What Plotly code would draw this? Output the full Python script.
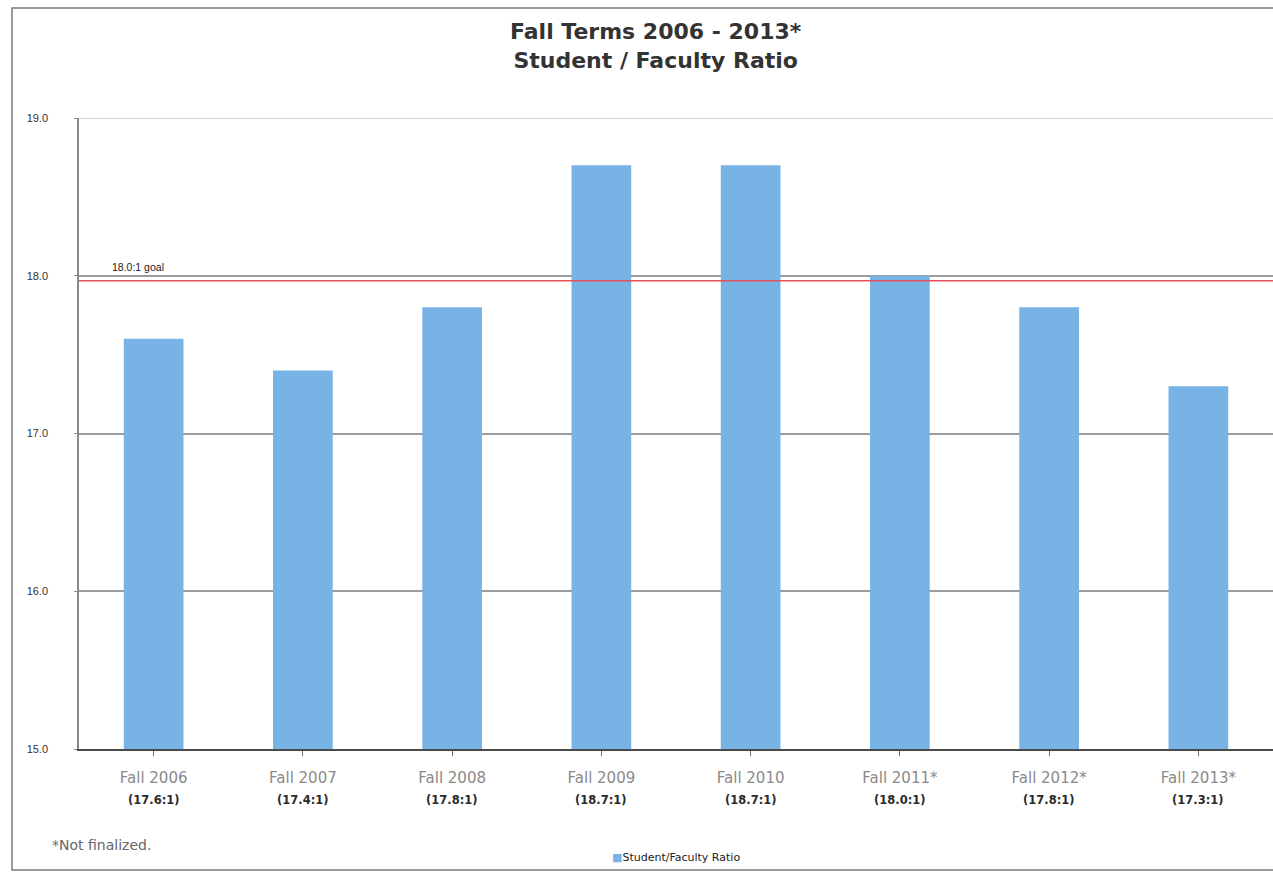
import plotly.graph_objects as go

# Fall-term student/faculty ratios
terms = ["Fall 2006", "Fall 2007", "Fall 2008", "Fall 2009", "Fall 2010",
         "Fall 2011*", "Fall 2012*", "Fall 2013*"]
ratios = [17.6, 17.4, 17.8, 18.7, 18.7, 18.0, 17.8, 17.3]
goal = 18.0
y_ticks = [15.0, 16.0, 17.0, 18.0, 19.0]

W, H = 1273, 874
ML, MT, MB, MR = 79, 118, 125, 0
PW, PH = W - ML - MR, H - MT - MB


def px_x(p):
    return (p - ML) / PW


def px_y(p):
    return (H - MB - p) / PH


FONT = "Liberation Sans, Arial, sans-serif"
WIDE = "DejaVu Sans, Verdana, sans-serif"
BAR = "#78b3e6"

fig = go.Figure()
fig.add_trace(go.Bar(
    x=list(range(len(terms))), y=ratios,
    marker=dict(color=BAR, line=dict(width=0)),
    width=0.4, name="Student/Faculty Ratio", showlegend=False,
))

annotations = [
    dict(text="<b>Fall Terms 2006 - 2013*</b><br><b>Student / Faculty Ratio</b>",
         x=px_x(656), y=px_y(46), xref="paper", yref="paper",
         xanchor="center", yanchor="middle",
         showarrow=False, font=dict(size=22, color="#333333", family=WIDE),
         align="center"),
    dict(text="18.0:1 goal", x=px_x(110), y=goal, xref="paper", yref="y",
         xanchor="left", yanchor="bottom", yshift=1, showarrow=False,
         font=dict(size=10.5, color="#222222", family=FONT)),
    dict(text="*Not finalized.", x=px_x(50), y=px_y(845), xref="paper", yref="paper",
         xanchor="left", yanchor="middle", showarrow=False,
         font=dict(size=14, color="#666666", family=WIDE)),
    dict(text="<span style='color:%s'>■</span>Student/Faculty Ratio" % BAR,
         x=px_x(676), y=px_y(857), xref="paper", yref="paper",
         xanchor="center", yanchor="middle",
         showarrow=False, font=dict(size=11, color="#222222", family=WIDE)),
]
for i, v in enumerate(ratios):
    annotations.append(dict(
        text="<b>(%.1f:1)</b>" % v, x=i, y=px_y(800), xref="x", yref="paper",
        xanchor="center", yanchor="middle",
        showarrow=False, font=dict(size=11.5, color="#2a2a2a", family=WIDE)))

shapes = [
    # outer frame of the chart
    dict(type="rect", xref="paper", yref="paper",
         x0=px_x(12), x1=1.05, y0=px_y(870), y1=px_y(8),
         line=dict(color="#7a7a7a", width=1.5), layer="below"),
    # lighter top gridline
    dict(type="line", xref="paper", yref="y", x0=0, x1=1, y0=19.0, y1=19.0,
         line=dict(color="#cfcfcf", width=2), layer="above"),
    # goal line
    dict(type="line", xref="paper", yref="y", ysizemode="pixel", yanchor=goal,
         x0=0, x1=1, y0=-5, y1=-5,
         line=dict(color="#e4505a", width=1.6), layer="above"),
]

fig.update_layout(
    width=W, height=H,
    margin=dict(l=ML, r=MR, t=MT, b=MB, pad=0),
    paper_bgcolor="white", plot_bgcolor="white",
    font=dict(family=FONT),
    annotations=annotations, shapes=shapes,
)
fig.update_xaxes(
    tickmode="array", tickvals=list(range(len(terms))), ticktext=terms,
    range=[-0.5, len(terms) - 0.5],
    tickfont=dict(size=15, color="#8a8a8a", family=WIDE),
    showline=True, linecolor="#4a4a4a", linewidth=2,
    ticks="outside", tickson="boundaries", ticklen=5, tickcolor="#6a6a6a",
    ticklabelstandoff=9, showgrid=False, zeroline=False,
)
fig.update_yaxes(
    range=[15.0, 19.0], tickmode="array", tickvals=y_ticks,
    ticktext=["%.1f" % t for t in y_ticks],
    tickfont=dict(size=11, color="#333333", family=FONT),
    showline=True, linecolor="#8a8a8a", linewidth=1.5,
    ticks="outside", ticklen=3, tickcolor="#8a8a8a",
    ticklabelstandoff=24,
    showgrid=True, gridcolor="#9c9c9c", gridwidth=2, zeroline=False,
)

fig.write_html("out.html")
